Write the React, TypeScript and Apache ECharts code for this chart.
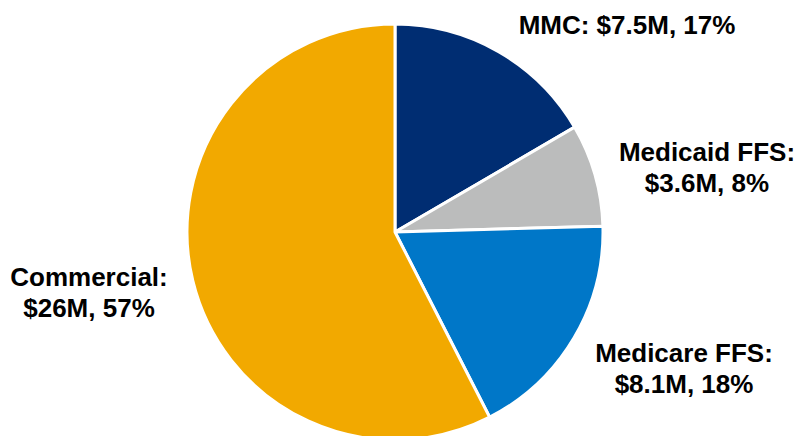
import React, { useEffect, useRef } from "react";
import * as echarts from "echarts";

const categories = ["MMC", "Medicaid FFS", "Medicare FFS", "Commercial"];
const values = [7.5, 3.6, 8.1, 26];
const valueLabels = ["$7.5M", "$3.6M", "$8.1M", "$26M"];
const percents = [17, 8, 18, 57];
const colors = ["#002D72", "#BBBCBC", "#0077C8", "#F2A900"];
// label layout: [centerX, centerY, multiline]
const labelPos: [number, number, boolean][] = [
  [627, 25, false],
  [707, 167, true],
  [684, 368, true],
  [89, 292, true],
];

export default function App() {
  const ref = useRef<HTMLDivElement>(null);
  useEffect(() => {
    if (!ref.current) return;
    const chart = echarts.init(ref.current, undefined, { renderer: "svg" });
    chart.setOption({
      animation: false,
      backgroundColor: "#ffffff",
      series: [
        {
          type: "pie",
          center: [395, 232],
          radius: [0, 208],
          startAngle: 90,
          clockwise: true,
          avoidLabelOverlap: false,
          itemStyle: { borderColor: "#ffffff", borderWidth: 3 },
          labelLine: { show: false },
          label: {
            show: true,
            position: "outside",
            fontFamily: "Liberation Sans, Arial, sans-serif",
            fontWeight: "bold",
            fontSize: 26,
            lineHeight: 31,
            color: "#000000",
            align: "center",
            formatter: (p: any) => {
              const i = p.dataIndex;
              const sep = labelPos[i][2] ? "\n" : " ";
              return `${categories[i]}:${sep}${valueLabels[i]}, ${percents[i]}%`;
            },
          },
          labelLayout: (params: any) => ({
            x: labelPos[params.dataIndex][0],
            y: labelPos[params.dataIndex][1],
            align: "center",
            verticalAlign: "middle",
          }),
          data: categories.map((c, i) => ({
            name: c,
            value: values[i],
            itemStyle: { color: colors[i] },
          })),
        },
      ],
    });
    return () => chart.dispose();
  }, []);
  return (
    <div
      ref={ref}
      style={{ position: "fixed", left: 0, top: 0, width: 801, height: 436 }}
    />
  );
}
